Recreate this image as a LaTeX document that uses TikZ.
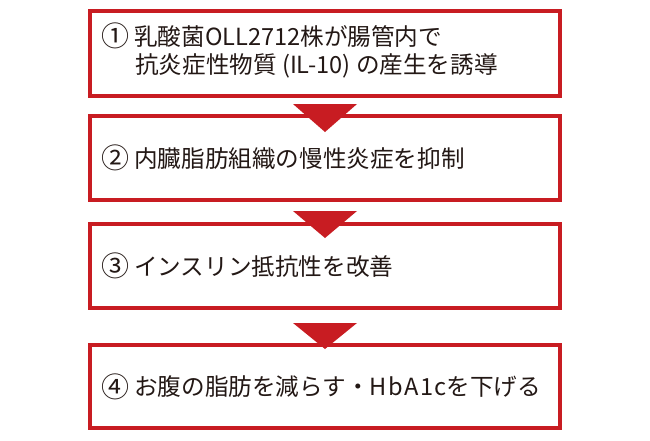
\documentclass[tikz,border=0pt]{standalone}
\usepackage{fontspec}
\setmainfont{Noto Sans CJK JP}
\usetikzlibrary{calc}
\definecolor{boxred}{RGB}{200,28,34}
\definecolor{txtcol}{RGB}{35,24,21}
\newcommand\stepnum[1]{\raisebox{-1.5pt}{\fontsize{28pt}{28pt}\selectfont #1}\hspace{5pt}}
\begin{document}
\begin{tikzpicture}[x=1pt,y=-1pt,
  stepbox/.style={draw=boxred,line width=4pt,fill=white,minimum width=470pt,inner sep=0pt,outer sep=0pt},
  txt/.style={text=txtcol,font=\fontsize{23.6pt}{28pt}\selectfont,inner sep=0pt,anchor=west},
  tri/.style={fill=boxred}]
\useasboundingbox (0,0) rectangle (650,440);
\fill[white] (0,0) rectangle (650,440);
\node[stepbox,minimum height=85pt] (b1) at (325,53.5) {};
\node[stepbox,minimum height=84pt] (b2) at (325,158) {};
\node[stepbox,minimum height=84pt] (b3) at (325,266) {};
\node[stepbox,minimum height=83pt] (b4) at (325,386.5) {};
\fill[tri] ($(b1.south)+(-32,8)$) -- ++(64,0) -- ++(-32,28) -- cycle;
\fill[tri] ($(b2.south)+(-32,11)$) -- ++(64,0) -- ++(-32,27) -- cycle;
\fill[tri] ($(b3.south)+(-32,15)$) -- ++(64,0) -- ++(-32,26) -- cycle;
\node[txt] (t1a) at (101,36) {\stepnum{①}乳酸菌OLL2712株が腸管内で};
\node[txt] (t1b) at (135,66) {抗炎症性物質 (IL-10) の産生を誘導};
\node[txt] (t2) at (101,158) {\stepnum{②}内臓脂肪組織の慢性炎症を抑制};
\node[txt] (t3) at (101,266) {\stepnum{③}インスリン抵抗性を改善};
\node[txt] (t4) at (101,386.5) {\stepnum{④}お腹の脂肪を減らす・{\addfontfeature{LetterSpace=6}HbA1c}を下げる};
\end{tikzpicture}
\end{document}
